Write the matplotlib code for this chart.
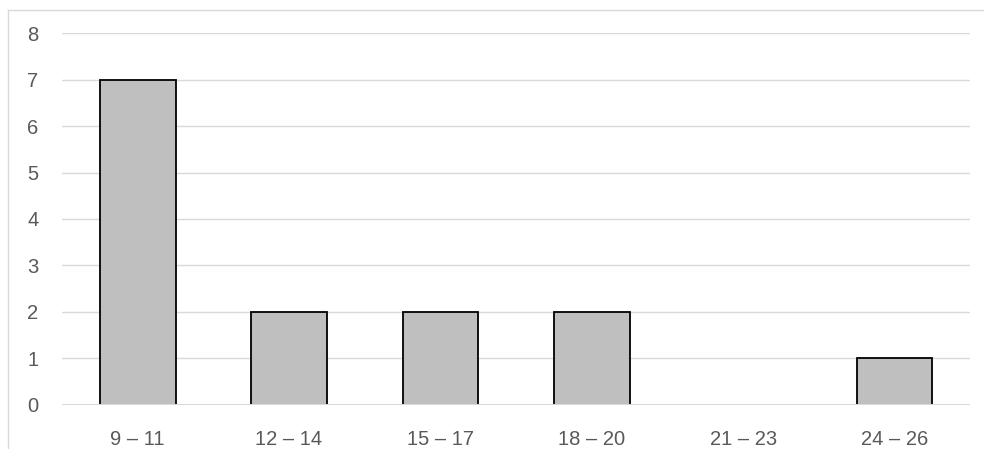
import matplotlib.pyplot as plt
from matplotlib.lines import Line2D

categories = ['9 – 11', '12 – 14', '15 – 17', '18 – 20', '21 – 23', '24 – 26']
counts = [7, 2, 2, 2, 0, 1]
y_ticks = [0, 1, 2, 3, 4, 5, 6, 7, 8]

plt.rcParams['font.family'] = ['Liberation Sans', 'DejaVu Sans']

fig = plt.figure(figsize=(9.84, 4.49), dpi=100)
ax = fig.add_axes([0.063, 0.098, 0.923, 0.8285])

x = range(len(categories))
bars = ax.bar(x, counts, width=0.5, color='#BFBFBF', edgecolor='black',
              linewidth=1.3, zorder=2)
ax.axhline(0, color='#D9D9D9', linewidth=1.5, zorder=3)

ax.set_xlim(-0.5, len(categories) - 0.5)
ax.set_ylim(0, 8)
ax.set_yticks(y_ticks)
ax.set_xticks(list(x))
ax.set_xticklabels(categories)
ax.grid(axis='y', color='#D9D9D9', linewidth=1, zorder=0)
ax.set_axisbelow(True)
for s in ax.spines.values():
    s.set_visible(False)
ax.tick_params(axis='both', length=0, labelsize=14.5, labelcolor='#595959')
ax.tick_params(axis='y', pad=17)
ax.tick_params(axis='x', pad=18)

# chart-area border (only left and top are inside the crop)
fig.add_artist(Line2D([8 / 984, 8 / 984], [0, 1 - 10 / 449], color='#D9D9D9', lw=1))
fig.add_artist(Line2D([8 / 984, 1], [1 - 10 / 449, 1 - 10 / 449], color='#D9D9D9', lw=1))

fig.savefig('out.png', dpi=100)
